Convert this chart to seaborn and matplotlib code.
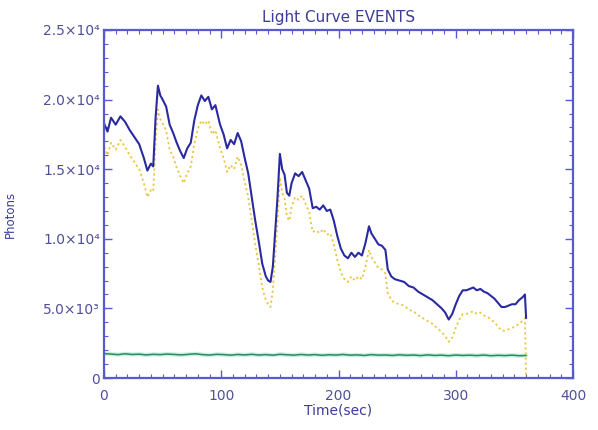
import matplotlib
matplotlib.use("Agg")
import matplotlib.pyplot as plt
from matplotlib.ticker import MultipleLocator, FixedLocator, FixedFormatter
import seaborn as sns
import pandas as pd

# Total photon counts (blue), time in seconds
time_total = [0, 3, 6, 10, 14, 18, 22, 26, 30, 34, 37, 40, 42, 44, 46, 48, 50, 53, 56, 59,
              62, 65, 68, 71, 74, 77, 80, 83, 86, 89, 92, 95, 99, 102, 105, 108, 111, 114, 117, 120,
              123, 126, 129, 132, 135, 138, 140, 142, 144, 146, 148, 150, 152, 154, 156, 158, 160, 163, 166, 169,
              172, 175, 178, 181, 184, 187, 190, 193, 196, 199, 202, 205, 208, 211, 214, 217, 220, 223, 226, 228,
              231, 234, 237, 240, 242, 245, 248, 252, 256, 260, 264, 268, 272, 276, 280, 284, 288, 291, 294, 297,
              300, 303, 306, 309, 312, 315, 318, 321, 324, 327, 330, 333, 336, 339, 342, 345, 348, 351, 354, 357,
              359, 360]
counts_total = [18300, 17700, 18700, 18200, 18800, 18400, 17800, 17300, 16800, 15800, 14900, 15400, 15200, 18700, 21000, 20300, 20000, 19500, 18200, 17600,
                16900, 16300, 15800, 16500, 16900, 18500, 19600, 20300, 19900, 20200, 19300, 19600, 18200, 17500, 16500, 17100, 16800, 17600, 17000, 15800,
                14700, 13000, 11300, 9800, 8200, 7300, 7000, 6900, 8000, 10500, 13000, 16100, 15000, 14600, 13300, 13100, 14000, 14700, 14500, 14800,
                14200, 13600, 12200, 12300, 12100, 12400, 12000, 12100, 11300, 10200, 9300, 8800, 8600, 9000, 8700, 9000, 8800, 9700, 10900, 10400,
                10000, 9600, 9500, 9200, 7800, 7300, 7100, 7000, 6900, 6600, 6500, 6200, 6000, 5800, 5600, 5300, 5000, 4700, 4200, 4600,
                5300, 5900, 6300, 6300, 6400, 6500, 6300, 6400, 6200, 6100, 5900, 5700, 5400, 5100, 5100, 5200, 5300, 5300, 5600, 5800,
                6000, 4300]

# Background-subtracted counts (yellow, dotted)
time_net = [0, 3, 6, 10, 14, 18, 22, 26, 30, 34, 37, 40, 42, 44, 46, 48, 50, 53, 56, 59,
            62, 65, 68, 71, 74, 77, 80, 83, 86, 89, 92, 95, 99, 102, 105, 108, 111, 114, 117, 120,
            123, 126, 129, 132, 135, 138, 140, 142, 144, 146, 148, 150, 152, 154, 156, 158, 160, 163, 166, 169,
            172, 175, 178, 181, 184, 187, 190, 193, 196, 199, 202, 205, 208, 211, 214, 217, 220, 223, 226, 228,
            231, 234, 237, 240, 242, 245, 248, 252, 256, 260, 264, 268, 272, 276, 280, 284, 288, 291, 294, 297,
            300, 303, 306, 309, 312, 315, 318, 321, 324, 327, 330, 333, 336, 339, 342, 345, 348, 351, 354, 357,
            359, 360]
counts_net = [16600, 16000, 16900, 16400, 17100, 16600, 16000, 15500, 15000, 14000, 13000, 13500, 13400, 16900, 19300, 18600, 18300, 17800, 16400, 15900,
              15100, 14500, 14000, 14700, 15200, 16800, 17900, 18500, 18200, 18500, 17500, 17800, 16500, 15800, 14800, 15300, 15000, 15900, 15300, 14100,
              13000, 11300, 9600, 8100, 6500, 5600, 5300, 5100, 6300, 8800, 11300, 14400, 13300, 12900, 11600, 11300, 12300, 13000, 12800, 13100,
              12500, 11900, 10500, 10600, 10400, 10700, 10300, 10400, 9600, 8500, 7600, 7100, 6900, 7300, 7000, 7300, 7100, 8000, 9200, 8700,
              8300, 7900, 7800, 7500, 6100, 5600, 5400, 5300, 5200, 4900, 4800, 4500, 4300, 4100, 3900, 3600, 3300, 3000, 2600, 2900,
              3600, 4200, 4600, 4600, 4700, 4800, 4600, 4700, 4500, 4400, 4200, 4000, 3700, 3400, 3400, 3500, 3600, 3700, 3900, 4100,
              4300, 0]

# Background counts (green)
time_bkg = [0, 6, 12, 18, 24, 30, 36, 42, 48, 54, 60, 66, 72, 78, 84, 90, 96, 102, 108, 114,
            120, 126, 132, 138, 144, 150, 156, 162, 168, 174, 180, 186, 192, 198, 204, 210, 216, 222, 228, 234,
            240, 246, 252, 258, 264, 270, 276, 282, 288, 294, 300, 306, 312, 318, 324, 330, 336, 342, 348, 354,
            360]
counts_bkg = [1750, 1720, 1680, 1740, 1690, 1710, 1660, 1700, 1680, 1720, 1690, 1660, 1700, 1740, 1680, 1650, 1700, 1680, 1640, 1690,
              1660, 1700, 1650, 1680, 1640, 1700, 1670, 1640, 1690, 1650, 1680, 1630, 1670, 1650, 1690, 1640, 1660, 1620, 1680, 1640,
              1650, 1620, 1670, 1630, 1650, 1610, 1660, 1620, 1640, 1600, 1650, 1620, 1640, 1610, 1650, 1600, 1630, 1610, 1640, 1600,
              1620]

y_ticks = [0, 5000, 10000, 15000, 20000, 25000]
y_tick_labels = ["0", "5.0×10³", "1.0×10⁴", "1.5×10⁴", "2.0×10⁴", "2.5×10⁴"]
x_ticks = [0, 100, 200, 300, 400]

sns.set_theme(style="white")
plt.rcParams["font.family"] = ["DejaVu Sans"]

axis_col = "#5a5ad0"
text_col = "#3c3c9a"
tick_text_col = "#50509a"

fig = plt.figure(figsize=(5.98, 4.30), dpi=100)
ax = fig.add_axes([104 / 598, 1 - 378 / 430, (573 - 104) / 598, (378 - 30) / 430])

df_total = pd.DataFrame({"t": time_total, "c": counts_total})
df_net = pd.DataFrame({"t": time_net, "c": counts_net})
df_bkg = pd.DataFrame({"t": time_bkg, "c": counts_bkg})

sns.lineplot(data=df_bkg, x="t", y="c", ax=ax, color="#7fe0d0", linewidth=3.0, alpha=0.45)
sns.lineplot(data=df_bkg, x="t", y="c", ax=ax, color="#2f8a55", linewidth=1.1)
sns.lineplot(data=df_net, x="t", y="c", ax=ax, color="#e9c645", linewidth=1.3, linestyle=(0, (1.2, 1.6)))
sns.lineplot(data=df_total, x="t", y="c", ax=ax, color="#2a2aa0", linewidth=1.5)

ax.set_xlim(0, 400)
ax.set_ylim(0, 25000)

ax.xaxis.set_major_locator(FixedLocator(x_ticks))
ax.xaxis.set_minor_locator(MultipleLocator(10))
ax.yaxis.set_major_locator(FixedLocator(y_ticks))
ax.yaxis.set_major_formatter(FixedFormatter(y_tick_labels))
ax.yaxis.set_minor_locator(MultipleLocator(1000))

ax.tick_params(axis="both", which="both", direction="in", top=True, right=True,
               bottom=True, left=True, colors=axis_col, labelcolor=tick_text_col, labelsize=10)
ax.tick_params(axis="both", which="major", length=6, width=1.0)
ax.tick_params(axis="both", which="minor", length=3, width=0.8)
ax.tick_params(axis="x", which="major", pad=8)
ax.tick_params(axis="y", which="major", pad=3)

for side in ax.spines.values():
    side.set_color(axis_col)
    side.set_linewidth(1.6)
    side.set_visible(True)

ax.set_xlabel("Time(sec)", color=text_col, fontsize=10, labelpad=0)
ax.set_ylabel("Photons", color=text_col, fontsize=8.5)
ax.yaxis.set_label_coords(-0.185, 0.47)
ax.set_title("Light Curve EVENTS", color=text_col, fontsize=11, pad=6)
ax.grid(False)

fig.savefig("out.png", dpi=100, facecolor="white")
